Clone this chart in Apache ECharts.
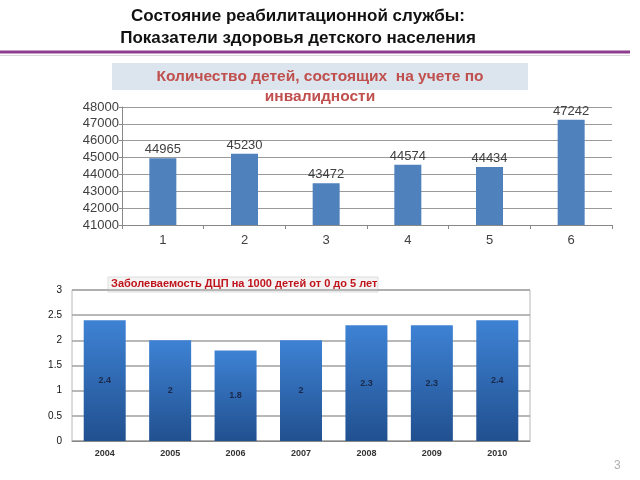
<!DOCTYPE html>
<html><head><meta charset="utf-8">
<script src="https://cdn.jsdelivr.net/npm/echarts@6/dist/echarts.min.js"></script>
<style>html,body{margin:0;padding:0;background:#fff}#c{width:640px;height:480px}</style>
</head><body><div id="c"></div>
<script>
const topCategories = ['1','2','3','4','5','6'];
const topValues = [44965, 45230, 43472, 44574, 44434, 47242];
const bottomCategories = ['2004','2005','2006','2007','2008','2009','2010'];
const bottomValues = [2.4, 2, 1.8, 2, 2.3, 2.3, 2.4];

const chart = echarts.init(document.getElementById('c'), null, {renderer:'canvas'});
const font = '"Liberation Sans", Arial, sans-serif';
chart.setOption({
  animation:false,
  textStyle:{fontFamily:font},
  graphic:[
    {type:'text', x:298, y:5, style:{text:'Состояние реабилитационной службы:\nПоказатели здоровья детского населения', font:'bold 17px "Liberation Sans", Arial, sans-serif', fill:'#111', textAlign:'center', lineHeight:22}},
    {type:'line', shape:{x1:0,y1:52,x2:630,y2:52}, style:{stroke:'#8e3c8e', lineWidth:3}},
    {type:'line', shape:{x1:0,y1:55.5,x2:630,y2:55.5}, style:{stroke:'#d8d8d8', lineWidth:1}},
    {type:'rect', shape:{x:112,y:63,width:416,height:27}, style:{fill:'#dce4ee'}},
    {type:'text', x:320, y:67, style:{text:'Количество детей, состоящих  на учете по\nинвалидности', font:'bold 15.5px "Liberation Sans", Arial, sans-serif', fill:'#c0504d', textAlign:'center', lineHeight:20}},
    {type:'rect', shape:{x:108,y:277,width:270,height:15}, style:{fill:'#f4f4f4', stroke:'#dddddd', lineWidth:1}},
    {type:'text', x:111, y:278, style:{text:'Заболеваемость ДЦП на 1000 детей от 0 до 5 лет', font:'bold 11px "Liberation Sans", Arial, sans-serif', fill:'#c0141c'}},
    {type:'text', x:614, y:460, style:{text:'3', font:'12px "Liberation Sans", Arial, sans-serif', fill:'#b0b0b0'}}
  ],
  grid:[
    {left:122, top:107, width:490, height:118, containLabel:false},
    {left:72, top:290, width:458, height:151, containLabel:false, show:true, borderColor:'#b8b8b8', borderWidth:1}
  ],
  xAxis:[
    {type:'category', gridIndex:0, data:topCategories, axisTick:{show:true, alignWithLabel:false, length:4, lineStyle:{color:'#888'}},
     axisLine:{lineStyle:{color:'#888'}}, axisLabel:{fontSize:13, color:'#404040', margin:9}},
    {type:'category', gridIndex:1, data:bottomCategories, axisTick:{show:false},
     axisLine:{lineStyle:{color:'#888'}}, axisLabel:{fontSize:9, fontWeight:'bold', color:'#333', margin:8}}
  ],
  yAxis:[
    {type:'value', gridIndex:0, min:41000, max:48000, interval:1000, axisLine:{show:true, lineStyle:{color:'#888'}},
     axisTick:{show:true, length:3, lineStyle:{color:'#888'}},
     axisLabel:{fontSize:13, color:'#404040', margin:3, formatter:function(v){return String(v);}}, splitLine:{lineStyle:{color:'#9a9a9a'}}},
    {type:'value', gridIndex:1, min:0, max:3, interval:0.5, axisLine:{show:false}, axisTick:{show:false},
     axisLabel:{fontSize:10, color:'#111', margin:10}, splitLine:{lineStyle:{color:'#a0a0a0', width:1.5}}}
  ],
  series:[
    {type:'bar', xAxisIndex:0, yAxisIndex:0, data:topValues, barWidth:27,
     itemStyle:{color:'#4f81bd'},
     label:{show:true, position:'top', fontSize:13, color:'#404040', distance:2}},
    {type:'bar', xAxisIndex:1, yAxisIndex:1, data:bottomValues, barWidth:42,
     itemStyle:{color:new echarts.graphic.LinearGradient(0,0,0,1,[{offset:0,color:'#3e82d4'},{offset:1,color:'#21508f'}])},
     label:{show:true, position:'inside', fontSize:9, fontWeight:'bold', color:'#1a2a4a'}}
  ]
});
</script></body></html>
